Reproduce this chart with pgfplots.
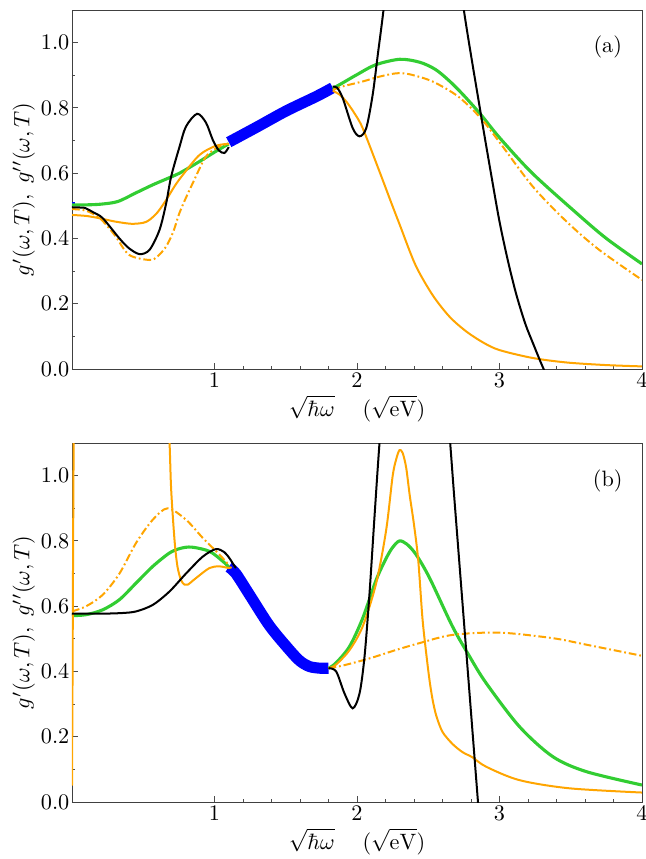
\documentclass[border=0pt]{standalone}
\usepackage{pgfplots}
\pgfplotsset{compat=1.18}
\definecolor{myorange}{RGB}{255,165,0}
\definecolor{mygreen}{RGB}{50,205,50}
\definecolor{myblue}{RGB}{0,0,255}
\begin{document}
\begin{tikzpicture}
\pgfplotsset{
 myaxis/.style={
  scale only axis, width=256.5pt, height=161.55pt,
  xmin=0, xmax=4, ymin=0, ymax=1.1,
  xtick={1,2,3,4}, ytick={0,0.2,0.4,0.6,0.8,1.0},
  minor x tick num=4, minor y tick num=1,
  tick pos=left, tick align=inside,
  major tick length=2.5pt, minor tick length=1.5pt,
  yticklabel style={inner sep=1pt, /pgf/number format/.cd, fixed, fixed zerofill, precision=1},
  xticklabel style={inner sep=1.5pt},
  xlabel={$\sqrt{\hbar\omega}\hspace{1.25em}(\sqrt{\mathrm{eV}})$},
  ylabel={$g'(\omega,T),\ g''(\omega,T)$},
  xlabel style={inner sep=2pt},
  ylabel style={inner sep=1.5pt},
  axis line style={black!75},
  every tick/.style={black!70},
  anchor=south west,
 },
 gr/.style={mygreen, line width=1.4pt, smooth, tension=0.5},
 orr/.style={myorange, line width=0.9pt, smooth, tension=0.5},
 dd/.style={myorange, line width=0.9pt, smooth, tension=0.5, dash pattern=on 3.5pt off 1.3pt on 0.8pt off 1.3pt},
 bk/.style={black, line width=0.9pt, smooth, tension=0.5},
 bl/.style={myblue, line width=5pt, smooth, tension=0.5},
}
% ---------------- panel (a)
\begin{axis}[myaxis, at={(0,0)}]
\addplot[bl] coordinates {(1.1,0.695)(1.3,0.742)(1.5,0.79)(1.7,0.832)(1.78,0.85)(1.83,0.862)};
\addplot[myblue, line width=2pt] coordinates {(0,0.505)(0.02,0.505)};
\addplot[gr] coordinates {(0,0.503)(0.1,0.503)(0.2,0.505)(0.32,0.513)(0.45,0.54)(0.565,0.564)(0.65,0.58)(0.754,0.60)(0.88,0.632)(1.01,0.667)(1.1,0.69)};
\addplot[gr] coordinates {(1.83,0.86)(1.877,0.871)(2.0,0.902)(2.13,0.932)(2.3,0.949)(2.44,0.940)(2.55,0.918)(2.65,0.882)(2.75,0.838)(2.87,0.779)(3.0,0.709)(3.23,0.60)(3.54,0.478)(3.75,0.40)(4.0,0.322)};
\addplot[orr] coordinates {(0,0.472)(0.1,0.469)(0.193,0.462)(0.3,0.452)(0.415,0.445)(0.5,0.448)(0.544,0.457)(0.6,0.48)(0.661,0.518)(0.72,0.56)(0.778,0.595)(0.895,0.656)(1.01,0.684)(1.1,0.69)};
\addplot[orr] coordinates {(1.83,0.853)(1.88,0.84)(1.924,0.82)(1.98,0.785)(2.04,0.738)(2.158,0.605)(2.24,0.51)(2.30,0.442)(2.41,0.319)(2.53,0.227)(2.65,0.16)(2.77,0.114)(2.89,0.08)(3.0,0.058)(3.23,0.034)(3.47,0.02)(3.75,0.012)(4.0,0.008)};
\addplot[dd] coordinates {(0,0.49)(0.1,0.485)(0.2,0.46)(0.3,0.41)(0.4,0.35)(0.544,0.334)(0.6,0.345)(0.66,0.375)(0.71,0.42)(0.754,0.478)(0.8,0.525)(0.848,0.57)(0.94,0.651)(1.035,0.682)(1.1,0.69)};
\addplot[dd] coordinates {(1.83,0.855)(1.9,0.866)(2.04,0.881)(2.15,0.895)(2.275,0.906)(2.37,0.903)(2.53,0.881)(2.71,0.835)(2.87,0.768)(3.0,0.695)(3.234,0.559)(3.47,0.452)(3.70,0.365)(4.0,0.273)};
\addplot[bk] coordinates {(0,0.495)(0.05,0.495)(0.088,0.494)(0.15,0.48)(0.216,0.462)(0.333,0.40)(0.40,0.37)(0.474,0.352)(0.544,0.365)(0.614,0.426)(0.661,0.508)(0.696,0.59)(0.754,0.68)(0.80,0.743)(0.878,0.782)(0.94,0.755)(0.988,0.702)(1.03,0.67)(1.07,0.662)(1.1,0.68)};
\addplot[bk] coordinates {(1.83,0.865)(1.86,0.862)(1.90,0.83)(1.97,0.738)(2.018,0.713)(2.065,0.738)(2.11,0.84)(2.146,0.963)(2.186,1.10)(2.25,1.35)(2.35,1.6)(2.5,1.7)(2.62,1.55)(2.70,1.3)(2.75,1.10)(2.87,0.779)(2.94,0.60)(3.0,0.452)(3.06,0.33)(3.117,0.23)(3.18,0.14)(3.234,0.08)(3.29,0.02)(3.32,-0.01)};
\node at (rel axis cs:0.94,0.897) {(a)};
\end{axis}
% ---------------- panel (b)
\begin{axis}[myaxis, at={(0,-194.85pt)}]
\addplot[bl] coordinates {(1.1,0.72)(1.15,0.70)(1.246,0.635)(1.386,0.54)(1.526,0.466)(1.6,0.432)(1.667,0.415)(1.74,0.41)(1.80,0.41)};
\addplot[gr] coordinates {(0,0.571)(0.1,0.574)(0.216,0.589)(0.333,0.62)(0.45,0.671)(0.567,0.722)(0.684,0.763)(0.76,0.777)(0.84,0.781)(0.965,0.768)(1.06,0.737)(1.1,0.72)};
\addplot[gr] coordinates {(1.80,0.41)(1.85,0.425)(1.947,0.476)(2.04,0.563)(2.135,0.681)(2.205,0.747)(2.25,0.78)(2.298,0.80)(2.35,0.79)(2.415,0.758)(2.51,0.686)(2.67,0.538)(2.79,0.446)(2.907,0.364)(3.14,0.231)(3.374,0.139)(3.61,0.093)(4.0,0.052)};
\addplot[orr] coordinates {(0,0.05)(0.004,0.4)(0.008,0.8)(0.013,1.2)(0.02,1.6)(0.1,2.2)(0.5,2.2)(0.65,1.5)(0.684,1.11)(0.696,0.957)(0.72,0.80)(0.74,0.722)(0.765,0.68)(0.79,0.666)(0.813,0.666)(0.87,0.686)(0.965,0.717)(1.035,0.722)(1.1,0.717)(1.12,0.72)};
\addplot[orr] coordinates {(1.80,0.41)(1.85,0.42)(1.947,0.465)(2.04,0.538)(2.135,0.671)(2.205,0.834)(2.25,0.998)(2.275,1.05)(2.298,1.078)(2.32,1.07)(2.345,1.025)(2.37,0.94)(2.40,0.85)(2.43,0.74)(2.46,0.56)(2.49,0.44)(2.51,0.37)(2.53,0.315)(2.556,0.265)(2.6,0.215)(2.67,0.178)(2.74,0.153)(2.81,0.137)(2.907,0.108)(3.14,0.067)(3.49,0.042)(4.0,0.029)};
\addplot[dd] coordinates {(0,0.584)(0.1,0.60)(0.216,0.635)(0.333,0.70)(0.45,0.794)(0.567,0.865)(0.672,0.90)(0.80,0.865)(0.918,0.809)(1.035,0.758)(1.105,0.724)};
\addplot[dd] coordinates {(1.80,0.41)(1.9,0.418)(2.088,0.44)(2.275,0.466)(2.44,0.487)(2.67,0.512)(3.0,0.519)(3.374,0.502)(3.61,0.482)(4.0,0.448)};
\addplot[bk] coordinates {(0,0.577)(0.2,0.577)(0.35,0.579)(0.45,0.584)(0.567,0.604)(0.684,0.645)(0.80,0.70)(0.918,0.752)(1.01,0.775)(1.07,0.765)(1.105,0.747)(1.13,0.73)(1.15,0.717)};
\addplot[bk] coordinates {(1.80,0.41)(1.854,0.40)(1.912,0.333)(1.97,0.287)(2.018,0.333)(2.053,0.446)(2.088,0.64)(2.123,0.875)(2.158,1.10)(2.22,1.45)(2.35,1.9)(2.5,1.9)(2.6,1.4)(2.654,1.10)(2.684,0.926)(2.766,0.466)(2.848,0.006)(2.87,-0.12)};
\node at (rel axis cs:0.94,0.893) {(b)};
\end{axis}
\pgfresetboundingbox
\useasboundingbox (-32.4pt,-220.5pt) rectangle (257.85pt,166.05pt);
\end{tikzpicture}
\end{document}
